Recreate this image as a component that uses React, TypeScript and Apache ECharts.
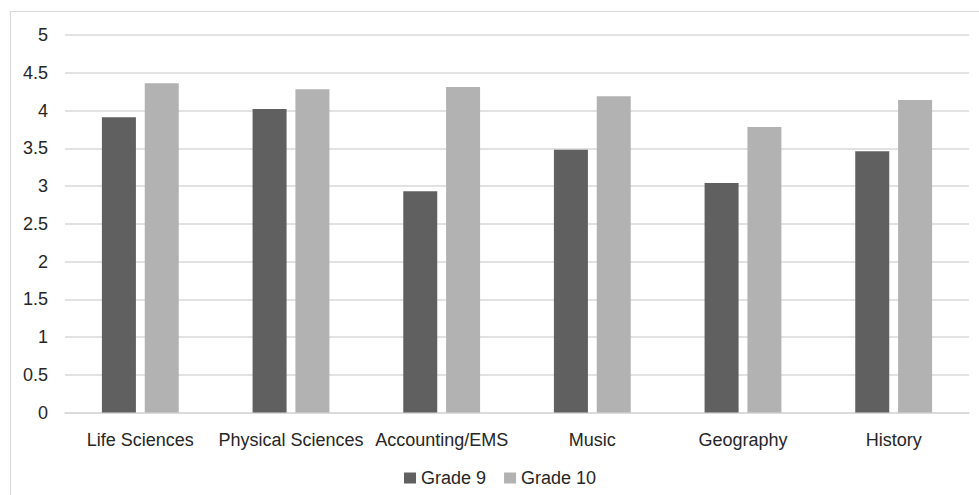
import React, { useEffect, useRef } from "react";
import * as echarts from "echarts";

// Subjects along the x axis
const subjects = [
  "Life Sciences",
  "Physical Sciences",
  "Accounting/EMS",
  "Music",
  "Geography",
  "History",
];

// Average scores per subject
const grade9 = [3.91, 4.02, 2.93, 3.48, 3.04, 3.46];
const grade10 = [4.36, 4.28, 4.31, 4.19, 3.78, 4.14];

const seriesNames = ["Grade 9", "Grade 10"];

const FONT = "'Liberation Sans', Arial, sans-serif";

export default function App() {
  const ref = useRef<HTMLDivElement>(null);

  useEffect(() => {
    if (!ref.current) return;
    const chart = echarts.init(ref.current, undefined, { renderer: "svg" });
    chart.setOption({
      animation: false,
      backgroundColor: "#ffffff",
      textStyle: { fontFamily: FONT },
      graphic: [
        {
          type: "rect",
          shape: { x: 10.5, y: 11.5, width: 1000, height: 1000 },
          style: { fill: "none", stroke: "#d9d9d9", lineWidth: 1.2 },
          silent: true,
        },
      ],
      grid: { left: 65, right: 10, top: 35, bottom: 82.5, containLabel: false },
      legend: {
        bottom: 3,
        left: 399,
        padding: [5, 5, 5, 5],
        icon: "rect",
        itemWidth: 12,
        itemHeight: 11,
        itemGap: 18,
        textStyle: { fontFamily: FONT, fontSize: 18, color: "#262626" },
        data: seriesNames,
      },
      xAxis: {
        type: "category",
        data: subjects,
        axisLine: { show: true, lineStyle: { color: "#d9d9d9", width: 1.5 } },
        axisTick: { show: false },
        axisLabel: {
          fontFamily: FONT,
          fontSize: 18,
          color: "#262626",
          margin: 18,
          interval: 0,
        },
      },
      yAxis: {
        type: "value",
        min: 0,
        max: 5,
        interval: 0.5,
        axisLine: { show: false },
        axisTick: { show: false },
        splitLine: { lineStyle: { color: "#d9d9d9", width: 1.5 } },
        axisLabel: {
          fontFamily: FONT,
          fontSize: 18,
          color: "#262626",
          margin: 17,
        },
      },
      series: [
        {
          name: seriesNames[0],
          type: "bar",
          data: grade9,
          barWidth: 34,
          barGap: "26%",
          itemStyle: { color: "#606060" },
        },
        {
          name: seriesNames[1],
          type: "bar",
          data: grade10,
          barWidth: 34,
          barGap: "26%",
          itemStyle: { color: "#b2b2b2" },
        },
      ],
    });
    return () => chart.dispose();
  }, []);

  return (
    <div
      ref={ref}
      style={{ position: "absolute", left: 0, top: 0, width: 979, height: 495 }}
    />
  );
}
